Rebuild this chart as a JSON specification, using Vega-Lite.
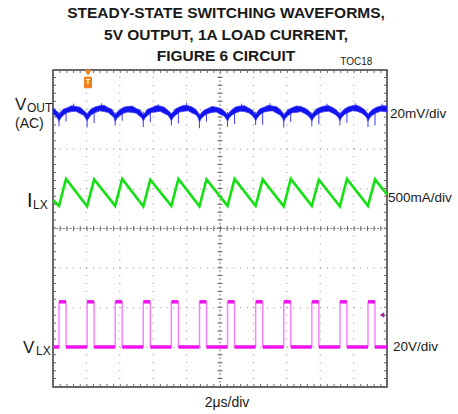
{
  "$schema": "https://vega.github.io/schema/vega-lite/v6.json",
  "width": 334,
  "height": 317,
  "autosize": {"type": "none"},
  "padding": {"left": 53, "top": 70, "right": 71, "bottom": 27},
  "background": "white",
  "config": {
    "view": {"stroke": "#383838", "strokeWidth": 1.5},
    "axis": {"disable": true},
    "font": "Liberation Sans"
  },
  "datasets": {
    "vout": [
      {"x": 0.000, "hi": 7.04, "lo": 6.90}, {"x": 0.079, "hi": 6.99, "lo": 6.84}, {"x": 0.146, "hi": 6.93, "lo": 6.77},
      {"x": 0.180, "hi": 6.88, "lo": 6.71}, {"x": 0.230, "hi": 6.94, "lo": 6.78}, {"x": 0.306, "hi": 7.01, "lo": 6.86}, {"x": 0.432, "hi": 7.05, "lo": 6.93}, {"x": 0.558, "hi": 7.10, "lo": 6.95}, {"x": 0.685, "hi": 7.08, "lo": 6.96}, {"x": 0.811, "hi": 7.06, "lo": 6.90}, {"x": 0.920, "hi": 6.98, "lo": 6.86}, {"x": 0.987, "hi": 6.93, "lo": 6.77},
      {"x": 1.021, "hi": 6.88, "lo": 6.72}, {"x": 1.071, "hi": 6.95, "lo": 6.79}, {"x": 1.147, "hi": 7.02, "lo": 6.87}, {"x": 1.273, "hi": 7.07, "lo": 6.93}, {"x": 1.399, "hi": 7.10, "lo": 6.97}, {"x": 1.526, "hi": 7.11, "lo": 6.95}, {"x": 1.652, "hi": 7.05, "lo": 6.93}, {"x": 1.761, "hi": 7.01, "lo": 6.85}, {"x": 1.828, "hi": 6.92, "lo": 6.80},
      {"x": 1.862, "hi": 6.86, "lo": 6.70}, {"x": 1.912, "hi": 6.93, "lo": 6.78}, {"x": 1.988, "hi": 6.99, "lo": 6.84}, {"x": 2.114, "hi": 7.06, "lo": 6.91}, {"x": 2.240, "hi": 7.08, "lo": 6.94}, {"x": 2.367, "hi": 7.09, "lo": 6.93}, {"x": 2.493, "hi": 7.03, "lo": 6.91}, {"x": 2.602, "hi": 6.99, "lo": 6.83}, {"x": 2.669, "hi": 6.91, "lo": 6.78},
      {"x": 2.703, "hi": 6.87, "lo": 6.71}, {"x": 2.753, "hi": 6.92, "lo": 6.79}, {"x": 2.829, "hi": 7.01, "lo": 6.85}, {"x": 2.955, "hi": 7.05, "lo": 6.93}, {"x": 3.081, "hi": 7.10, "lo": 6.94}, {"x": 3.208, "hi": 7.09, "lo": 6.96}, {"x": 3.334, "hi": 7.06, "lo": 6.90}, {"x": 3.443, "hi": 6.98, "lo": 6.86}, {"x": 3.510, "hi": 6.93, "lo": 6.77},
      {"x": 3.544, "hi": 6.89, "lo": 6.72}, {"x": 3.594, "hi": 6.94, "lo": 6.80}, {"x": 3.670, "hi": 7.02, "lo": 6.86}, {"x": 3.796, "hi": 7.07, "lo": 6.94}, {"x": 3.922, "hi": 7.11, "lo": 6.96}, {"x": 4.049, "hi": 7.10, "lo": 6.97}, {"x": 4.175, "hi": 7.06, "lo": 6.91}, {"x": 4.284, "hi": 7.00, "lo": 6.87}, {"x": 4.351, "hi": 6.92, "lo": 6.79},
      {"x": 4.385, "hi": 6.85, "lo": 6.69}, {"x": 4.435, "hi": 6.91, "lo": 6.77}, {"x": 4.511, "hi": 6.98, "lo": 6.84}, {"x": 4.637, "hi": 7.03, "lo": 6.90}, {"x": 4.763, "hi": 7.08, "lo": 6.93}, {"x": 4.890, "hi": 7.06, "lo": 6.94}, {"x": 5.016, "hi": 7.03, "lo": 6.88}, {"x": 5.125, "hi": 6.97, "lo": 6.84}, {"x": 5.192, "hi": 6.90, "lo": 6.76},
      {"x": 5.226, "hi": 6.87, "lo": 6.71}, {"x": 5.276, "hi": 6.93, "lo": 6.79}, {"x": 5.352, "hi": 7.00, "lo": 6.86}, {"x": 5.478, "hi": 7.07, "lo": 6.92}, {"x": 5.604, "hi": 7.09, "lo": 6.96}, {"x": 5.731, "hi": 7.10, "lo": 6.95}, {"x": 5.857, "hi": 7.04, "lo": 6.92}, {"x": 5.966, "hi": 6.99, "lo": 6.85}, {"x": 6.033, "hi": 6.92, "lo": 6.78},
      {"x": 6.067, "hi": 6.88, "lo": 6.72}, {"x": 6.117, "hi": 6.94, "lo": 6.79}, {"x": 6.193, "hi": 7.02, "lo": 6.87}, {"x": 6.319, "hi": 7.06, "lo": 6.94}, {"x": 6.445, "hi": 7.11, "lo": 6.96}, {"x": 6.572, "hi": 7.09, "lo": 6.97}, {"x": 6.698, "hi": 7.07, "lo": 6.91}, {"x": 6.807, "hi": 7.00, "lo": 6.86}, {"x": 6.874, "hi": 6.93, "lo": 6.78},
      {"x": 6.908, "hi": 6.86, "lo": 6.70}, {"x": 6.958, "hi": 6.92, "lo": 6.78}, {"x": 7.034, "hi": 7.00, "lo": 6.85}, {"x": 7.160, "hi": 7.05, "lo": 6.92}, {"x": 7.286, "hi": 7.09, "lo": 6.93}, {"x": 7.413, "hi": 7.08, "lo": 6.95}, {"x": 7.539, "hi": 7.04, "lo": 6.90}, {"x": 7.648, "hi": 6.98, "lo": 6.84}, {"x": 7.715, "hi": 6.92, "lo": 6.77},
      {"x": 7.749, "hi": 6.87, "lo": 6.71}, {"x": 7.799, "hi": 6.93, "lo": 6.79}, {"x": 7.875, "hi": 7.01, "lo": 6.86}, {"x": 8.001, "hi": 7.06, "lo": 6.92}, {"x": 8.127, "hi": 7.09, "lo": 6.95}, {"x": 8.254, "hi": 7.10, "lo": 6.96}, {"x": 8.380, "hi": 7.05, "lo": 6.91}, {"x": 8.489, "hi": 6.99, "lo": 6.85}, {"x": 8.556, "hi": 6.92, "lo": 6.78},
      {"x": 8.590, "hi": 6.88, "lo": 6.72}, {"x": 8.640, "hi": 6.94, "lo": 6.80}, {"x": 8.716, "hi": 7.01, "lo": 6.87}, {"x": 8.842, "hi": 7.07, "lo": 6.93}, {"x": 8.968, "hi": 7.10, "lo": 6.97}, {"x": 9.095, "hi": 7.11, "lo": 6.96}, {"x": 9.221, "hi": 7.06, "lo": 6.92}, {"x": 9.330, "hi": 7.00, "lo": 6.86}, {"x": 9.397, "hi": 6.93, "lo": 6.79},
      {"x": 9.431, "hi": 6.87, "lo": 6.71}, {"x": 9.481, "hi": 6.93, "lo": 6.79}, {"x": 9.557, "hi": 7.00, "lo": 6.86}, {"x": 9.683, "hi": 7.06, "lo": 6.92}, {"x": 9.809, "hi": 7.09, "lo": 6.96}, {"x": 9.936, "hi": 7.10, "lo": 6.95}, {"x": 10.000, "hi": 7.08, "lo": 6.94}
    ],
    "voutSpikes": [
      {"x": 0.180, "lo": 6.58, "hi": 6.95}, {"x": 1.021, "lo": 6.55, "hi": 6.92}, {"x": 1.862, "lo": 6.60, "hi": 6.93}, {"x": 2.703, "lo": 6.56, "hi": 6.95},
      {"x": 3.544, "lo": 6.60, "hi": 6.92}, {"x": 4.385, "lo": 6.53, "hi": 6.90}, {"x": 5.226, "lo": 6.57, "hi": 6.94}, {"x": 6.067, "lo": 6.61, "hi": 6.95},
      {"x": 6.908, "lo": 6.55, "hi": 6.92}, {"x": 7.749, "lo": 6.58, "hi": 6.93}, {"x": 8.590, "lo": 6.60, "hi": 6.95}, {"x": 9.431, "lo": 6.56, "hi": 6.92},
      {"x": 0.390, "lo": 6.70, "hi": 7.00}, {"x": 1.231, "lo": 6.66, "hi": 6.98}, {"x": 2.072, "lo": 6.72, "hi": 7.00}, {"x": 2.913, "lo": 6.68, "hi": 7.02},
      {"x": 3.754, "lo": 6.65, "hi": 6.99}, {"x": 4.595, "lo": 6.70, "hi": 6.98}, {"x": 5.436, "lo": 6.64, "hi": 7.00}, {"x": 6.277, "lo": 6.62, "hi": 7.01},
      {"x": 7.118, "lo": 6.69, "hi": 6.99}, {"x": 7.959, "lo": 6.63, "hi": 7.02}, {"x": 8.800, "lo": 6.67, "hi": 7.00}, {"x": 9.641, "lo": 6.60, "hi": 7.03},
      {"x": 0.62, "lo": 7.00, "hi": 7.15}, {"x": 1.45, "lo": 7.02, "hi": 7.16}, {"x": 3.15, "lo": 7.03, "hi": 7.14}, {"x": 4.00, "lo": 7.04, "hi": 7.17},
      {"x": 5.65, "lo": 7.02, "hi": 7.15}, {"x": 6.50, "lo": 7.03, "hi": 7.16}, {"x": 8.20, "lo": 7.02, "hi": 7.15}, {"x": 9.05, "lo": 7.04, "hi": 7.16}, {"x": 9.85, "lo": 7.03, "hi": 7.15}
    ],
    "ilx": [
      {"x": 0.000, "y": 4.72},
      {"x": 0.180, "y": 4.57}, {"x": 0.390, "y": 5.25},
      {"x": 1.021, "y": 4.56}, {"x": 1.231, "y": 5.24},
      {"x": 1.862, "y": 4.57}, {"x": 2.072, "y": 5.25},
      {"x": 2.703, "y": 4.56}, {"x": 2.913, "y": 5.23},
      {"x": 3.544, "y": 4.57}, {"x": 3.754, "y": 5.25},
      {"x": 4.385, "y": 4.56}, {"x": 4.595, "y": 5.24},
      {"x": 5.226, "y": 4.57}, {"x": 5.436, "y": 5.25},
      {"x": 6.067, "y": 4.57}, {"x": 6.277, "y": 5.24},
      {"x": 6.908, "y": 4.56}, {"x": 7.118, "y": 5.25},
      {"x": 7.749, "y": 4.57}, {"x": 7.959, "y": 5.23},
      {"x": 8.590, "y": 4.56}, {"x": 8.800, "y": 5.25},
      {"x": 9.431, "y": 4.57}, {"x": 9.641, "y": 5.24},
      {"x": 10.000, "y": 4.86}
    ],
    "vlxFlats": [
      {"x": 0.000, "x2": 0.180, "y": 1.01}, {"x": 0.180, "x2": 0.390, "y": 2.15},
      {"x": 0.390, "x2": 1.021, "y": 1.01}, {"x": 1.021, "x2": 1.231, "y": 2.15},
      {"x": 1.231, "x2": 1.862, "y": 1.01}, {"x": 1.862, "x2": 2.072, "y": 2.15},
      {"x": 2.072, "x2": 2.703, "y": 1.01}, {"x": 2.703, "x2": 2.913, "y": 2.15},
      {"x": 2.913, "x2": 3.544, "y": 1.01}, {"x": 3.544, "x2": 3.754, "y": 2.15},
      {"x": 3.754, "x2": 4.385, "y": 1.01}, {"x": 4.385, "x2": 4.595, "y": 2.15},
      {"x": 4.595, "x2": 5.226, "y": 1.01}, {"x": 5.226, "x2": 5.436, "y": 2.15},
      {"x": 5.436, "x2": 6.067, "y": 1.01}, {"x": 6.067, "x2": 6.277, "y": 2.15},
      {"x": 6.277, "x2": 6.908, "y": 1.01}, {"x": 6.908, "x2": 7.118, "y": 2.15},
      {"x": 7.118, "x2": 7.749, "y": 1.01}, {"x": 7.749, "x2": 7.959, "y": 2.15},
      {"x": 7.959, "x2": 8.590, "y": 1.01}, {"x": 8.590, "x2": 8.800, "y": 2.15},
      {"x": 8.800, "x2": 9.431, "y": 1.01}, {"x": 9.431, "x2": 9.641, "y": 2.15},
      {"x": 9.641, "x2": 10.000, "y": 1.01}
    ],
    "vlxEdges": [
      {"x": 0.180}, {"x": 0.390}, {"x": 1.021}, {"x": 1.231}, {"x": 1.862}, {"x": 2.072},
      {"x": 2.703}, {"x": 2.913}, {"x": 3.544}, {"x": 3.754}, {"x": 4.385}, {"x": 4.595},
      {"x": 5.226}, {"x": 5.436}, {"x": 6.067}, {"x": 6.277}, {"x": 6.908}, {"x": 7.118},
      {"x": 7.749}, {"x": 7.959}, {"x": 8.590}, {"x": 8.800}, {"x": 9.431}, {"x": 9.641}
    ]
  },
  "layer": [
    {
      "data": {"values": [{"x": 1}, {"x": 2}, {"x": 3}, {"x": 4}, {"x": 6}, {"x": 7}, {"x": 8}, {"x": 9}]},
      "mark": {"type": "rule", "stroke": "#8a8a8a", "strokeWidth": 1, "strokeDash": [1, 6.925]},
      "encoding": {
        "x": {"field": "x", "type": "quantitative", "scale": {"domain": [0, 10], "nice": false, "zero": false}},
        "y": {"datum": 0, "type": "quantitative", "scale": {"domain": [0, 8], "nice": false, "zero": false}},
        "y2": {"datum": 8}
      }
    },
    {
      "data": {"values": [{"y": 1}, {"y": 2}, {"y": 3}, {"y": 5}, {"y": 6}, {"y": 7}]},
      "mark": {"type": "rule", "stroke": "#8a8a8a", "strokeWidth": 1, "strokeDash": [1, 5.68]},
      "encoding": {
        "y": {"field": "y", "type": "quantitative", "scale": {"domain": [0, 8], "nice": false, "zero": false}},
        "x": {"datum": 0, "type": "quantitative", "scale": {"domain": [0, 10], "nice": false, "zero": false}},
        "x2": {"datum": 10}
      }
    },
    {
      "data": {"values": [{"y": 4}]},
      "mark": {"type": "rule", "stroke": "#7a7a7a", "strokeWidth": 1, "strokeDash": [2, 1.34]},
      "encoding": {
        "y": {"field": "y", "type": "quantitative", "scale": {"domain": [0, 8]}},
        "x": {"datum": 0, "type": "quantitative", "scale": {"domain": [0, 10]}},
        "x2": {"datum": 10}
      }
    },
    {
      "data": {"values": [{"y": 4}]},
      "mark": {"type": "rule", "stroke": "#6a6a6a", "strokeWidth": 5, "strokeDash": [1, 5.68]},
      "encoding": {
        "y": {"field": "y", "type": "quantitative", "scale": {"domain": [0, 8]}},
        "x": {"datum": 0, "type": "quantitative", "scale": {"domain": [0, 10]}},
        "x2": {"datum": 10}
      }
    },
    {
      "data": {"values": [{"x": 5}]},
      "mark": {"type": "rule", "stroke": "#7a7a7a", "strokeWidth": 1, "strokeDash": [2, 1.96]},
      "encoding": {
        "x": {"field": "x", "type": "quantitative", "scale": {"domain": [0, 10]}},
        "y": {"datum": 0, "type": "quantitative", "scale": {"domain": [0, 8]}},
        "y2": {"datum": 8}
      }
    },
    {
      "data": {"values": [{"x": 5}]},
      "mark": {"type": "rule", "stroke": "#6a6a6a", "strokeWidth": 5, "strokeDash": [1, 6.925]},
      "encoding": {
        "x": {"field": "x", "type": "quantitative", "scale": {"domain": [0, 10]}},
        "y": {"datum": 0, "type": "quantitative", "scale": {"domain": [0, 8]}},
        "y2": {"datum": 8}
      }
    },
    {
      "data": {"values": [{"y": 0.04}, {"y": 7.96}]},
      "mark": {"type": "rule", "stroke": "#6a6a6a", "strokeWidth": 3, "strokeDash": [1, 5.68]},
      "encoding": {
        "y": {"field": "y", "type": "quantitative", "scale": {"domain": [0, 8]}},
        "x": {"datum": 0, "type": "quantitative", "scale": {"domain": [0, 10]}},
        "x2": {"datum": 10}
      }
    },
    {
      "data": {"values": [{"x": 0.045}, {"x": 9.955}]},
      "mark": {"type": "rule", "stroke": "#6a6a6a", "strokeWidth": 3, "strokeDash": [1, 6.925]},
      "encoding": {
        "x": {"field": "x", "type": "quantitative", "scale": {"domain": [0, 10]}},
        "y": {"datum": 0, "type": "quantitative", "scale": {"domain": [0, 8]}},
        "y2": {"datum": 8}
      }
    },
    {
      "data": {"name": "vlxEdges"},
      "mark": {"type": "rule", "stroke": "#ff80ff", "strokeWidth": 1.5},
      "encoding": {
        "x": {"field": "x", "type": "quantitative", "scale": {"domain": [0, 10]}},
        "y": {"datum": 1.01, "type": "quantitative", "scale": {"domain": [0, 8]}},
        "y2": {"datum": 2.15}
      }
    },
    {
      "data": {"name": "vlxFlats"},
      "mark": {"type": "rule", "stroke": "#f010f0", "strokeWidth": 3.5},
      "encoding": {
        "x": {"field": "x", "type": "quantitative", "scale": {"domain": [0, 10]}},
        "x2": {"field": "x2"},
        "y": {"field": "y", "type": "quantitative", "scale": {"domain": [0, 8]}}
      }
    },
    {
      "data": {"name": "ilx"},
      "mark": {"type": "line", "stroke": "#14e014", "strokeWidth": 2.6},
      "encoding": {
        "x": {"field": "x", "type": "quantitative", "scale": {"domain": [0, 10]}},
        "y": {"field": "y", "type": "quantitative", "scale": {"domain": [0, 8]}}
      }
    },
    {
      "data": {"name": "voutSpikes"},
      "mark": {"type": "rule", "stroke": "#3a3aff", "strokeWidth": 1},
      "encoding": {
        "x": {"field": "x", "type": "quantitative", "scale": {"domain": [0, 10]}},
        "y": {"field": "lo", "type": "quantitative", "scale": {"domain": [0, 8]}},
        "y2": {"field": "hi"}
      }
    },
    {
      "data": {"name": "vout"},
      "mark": {"type": "area", "fill": "#1212ee", "stroke": "#3a3aff", "strokeWidth": 0.8},
      "encoding": {
        "x": {"field": "x", "type": "quantitative", "scale": {"domain": [0, 10]}},
        "y": {"field": "hi", "type": "quantitative", "scale": {"domain": [0, 8]}},
        "y2": {"field": "lo"}
      }
    },
    {
      "data": {"values": [{"x": 1.048, "y": 7.93}]},
      "mark": {"type": "point", "shape": "triangle-down", "size": 50, "filled": true, "fill": "#f08020", "opacity": 1},
      "encoding": {
        "x": {"field": "x", "type": "quantitative", "scale": {"domain": [0, 10]}},
        "y": {"field": "y", "type": "quantitative", "scale": {"domain": [0, 8]}}
      }
    },
    {
      "data": {"values": [{"x": 1.048, "y": 7.685}]},
      "mark": {"type": "point", "shape": "M-0.6,-1H0.6Q0.7,-1 0.7,-0.9V0.9Q0.7,1 0.6,1H-0.6Q-0.7,1 -0.7,0.9V-0.9Q-0.7,-1 -0.6,-1Z", "size": 130, "filled": true, "fill": "#f08020", "opacity": 1},
      "encoding": {
        "x": {"field": "x", "type": "quantitative", "scale": {"domain": [0, 10]}},
        "y": {"field": "y", "type": "quantitative", "scale": {"domain": [0, 8]}}
      }
    },
    {
      "data": {"values": [{"x": 1.048, "y": 7.685, "t": "T"}]},
      "mark": {"type": "text", "fontSize": 8, "fontWeight": "bold", "fill": "#fff4e0", "align": "center", "baseline": "middle"},
      "encoding": {
        "x": {"field": "x", "type": "quantitative", "scale": {"domain": [0, 10]}},
        "y": {"field": "y", "type": "quantitative", "scale": {"domain": [0, 8]}},
        "text": {"field": "t"}
      }
    },
    {
      "data": {"values": [{"x": 9.85, "y": 1.817}]},
      "mark": {"type": "point", "shape": "triangle-left", "size": 28, "filled": true, "fill": "#a8209a", "opacity": 1},
      "encoding": {
        "x": {"field": "x", "type": "quantitative", "scale": {"domain": [0, 10]}},
        "y": {"field": "y", "type": "quantitative", "scale": {"domain": [0, 8]}}
      }
    },
    {
      "data": {"values": [
        {"x": 5.18, "y": 9.305, "t": "STEADY-STATE SWITCHING WAVEFORMS,"},
        {"x": 5.18, "y": 8.757, "t": "5V OUTPUT, 1A LOAD CURRENT,"},
        {"x": 5.18, "y": 8.227, "t": "FIGURE 6 CIRCUIT"}
      ]},
      "mark": {"type": "text", "fontSize": 15.5, "fontWeight": "bold", "fill": "#1a1a1a", "align": "center", "baseline": "alphabetic"},
      "encoding": {
        "x": {"field": "x", "type": "quantitative", "scale": {"domain": [0, 10]}},
        "y": {"field": "y", "type": "quantitative", "scale": {"domain": [0, 8]}},
        "text": {"field": "t"}
      }
    },
    {
      "data": {"values": [{"x": 9.08, "y": 8.126, "t": "TOC18"}]},
      "mark": {"type": "text", "fontSize": 10, "fill": "#1a1a1a", "align": "center", "baseline": "alphabetic"},
      "encoding": {
        "x": {"field": "x", "type": "quantitative", "scale": {"domain": [0, 10]}},
        "y": {"field": "y", "type": "quantitative", "scale": {"domain": [0, 8]}},
        "text": {"field": "t"}
      }
    },
    {
      "data": {"values": [{"x": -1.138, "y": 6.99, "t": "V"}, {"x": -0.898, "y": 0.858, "t": "V"}]},
      "mark": {"type": "text", "fontSize": 17, "fill": "#1a1a1a", "align": "left", "baseline": "alphabetic"},
      "encoding": {
        "x": {"field": "x", "type": "quantitative", "scale": {"domain": [0, 10]}},
        "y": {"field": "y", "type": "quantitative", "scale": {"domain": [0, 8]}},
        "text": {"field": "t"}
      }
    },
    {
      "data": {"values": [{"x": -1.138, "y": 6.544, "t": "(AC)"}]},
      "mark": {"type": "text", "fontSize": 14, "fill": "#1a1a1a", "align": "left", "baseline": "alphabetic"},
      "encoding": {
        "x": {"field": "x", "type": "quantitative", "scale": {"domain": [0, 10]}},
        "y": {"field": "y", "type": "quantitative", "scale": {"domain": [0, 8]}},
        "text": {"field": "t"}
      }
    },
    {
      "data": {"values": [{"x": -0.778, "y": 4.543, "t": "I"}]},
      "mark": {"type": "text", "fontSize": 20, "fill": "#1a1a1a", "align": "left", "baseline": "alphabetic"},
      "encoding": {
        "x": {"field": "x", "type": "quantitative", "scale": {"domain": [0, 10]}},
        "y": {"field": "y", "type": "quantitative", "scale": {"domain": [0, 8]}},
        "text": {"field": "t"}
      }
    },
    {
      "data": {"values": [{"x": -0.778, "y": 6.94, "t": "OUT"}, {"x": -0.599, "y": 4.492, "t": "LX"}, {"x": -0.509, "y": 0.795, "t": "LX"}]},
      "mark": {"type": "text", "fontSize": 12, "fill": "#1a1a1a", "align": "left", "baseline": "alphabetic"},
      "encoding": {
        "x": {"field": "x", "type": "quantitative", "scale": {"domain": [0, 10]}},
        "y": {"field": "y", "type": "quantitative", "scale": {"domain": [0, 8]}},
        "text": {"field": "t"}
      }
    },
    {
      "data": {"values": [{"x": 10.09, "y": 6.89, "t": "20mV/div"}, {"x": 10.03, "y": 4.77, "t": "500mA/div"}, {"x": 10.18, "y": 1.01, "t": "20V/div"}]},
      "mark": {"type": "text", "fontSize": 13.5, "fill": "#1a1a1a", "align": "left", "baseline": "middle"},
      "encoding": {
        "x": {"field": "x", "type": "quantitative", "scale": {"domain": [0, 10]}},
        "y": {"field": "y", "type": "quantitative", "scale": {"domain": [0, 8]}},
        "text": {"field": "t"}
      }
    },
    {
      "data": {"values": [{"x": 5.21, "y": -0.505, "t": "2μs/div"}]},
      "mark": {"type": "text", "fontSize": 14, "fill": "#1a1a1a", "align": "center", "baseline": "alphabetic"},
      "encoding": {
        "x": {"field": "x", "type": "quantitative", "scale": {"domain": [0, 10]}},
        "y": {"field": "y", "type": "quantitative", "scale": {"domain": [0, 8]}},
        "text": {"field": "t"}
      }
    }
  ]
}
